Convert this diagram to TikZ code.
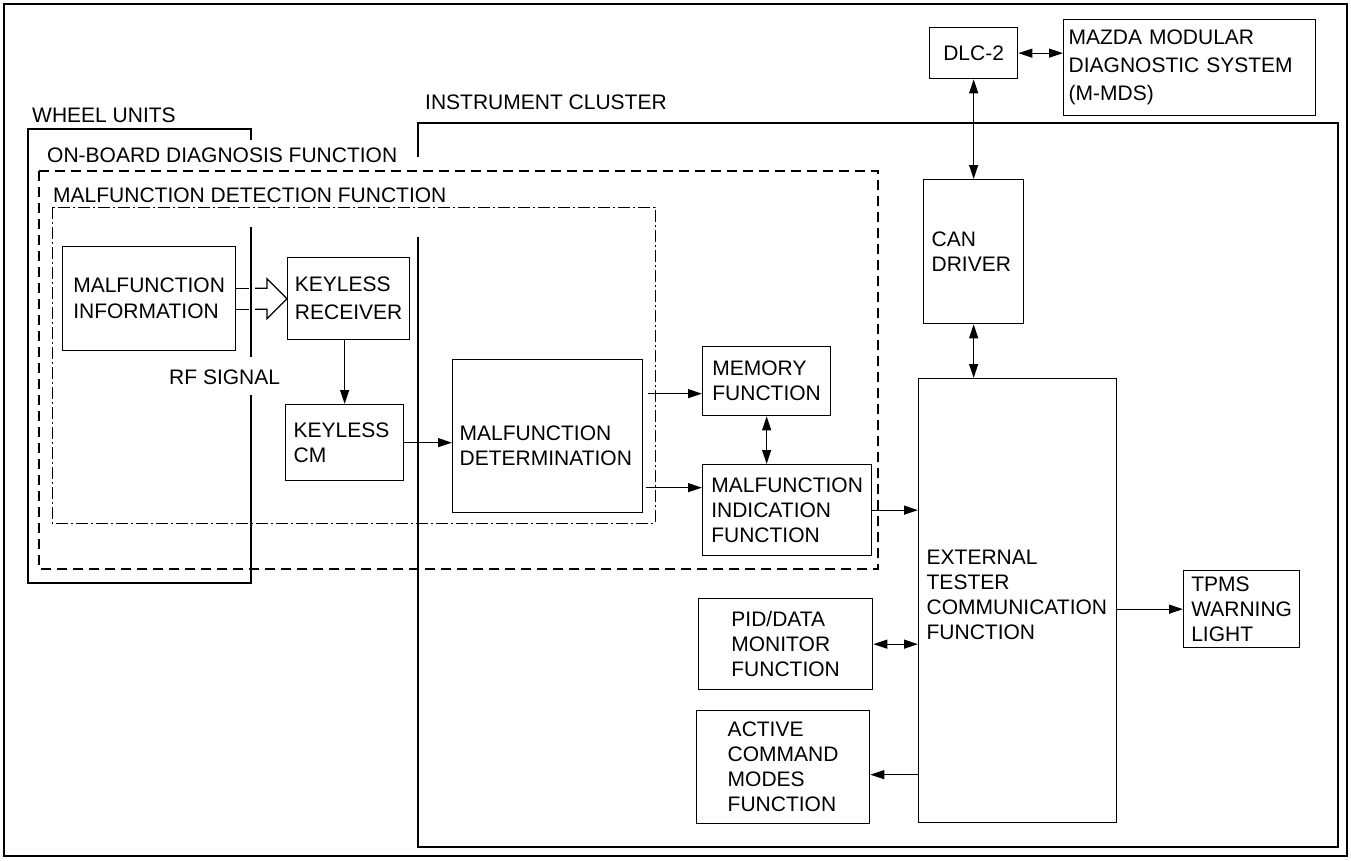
\documentclass[tikz,border=0pt]{standalone}
\usepackage{fontspec}
\setmainfont{Liberation Sans}
\usetikzlibrary{arrows.meta,positioning,calc}

\begin{document}
\begin{tikzpicture}[
    x=1pt, y=1pt,
    b1/.style={rectangle, draw, line width=1.3pt, anchor=north west, align=left, inner ysep=0pt, font=\fontsize{21}{25}\selectfont},
    lbl/.style={anchor=west, inner sep=0pt, font=\fontsize{21}{25}\selectfont},
    arr/.style={-{Triangle[length=14pt,width=9pt]}, line width=1.2pt},
    dbl/.style={{Triangle[length=14pt,width=9pt]}-{Triangle[length=14pt,width=9pt]}, line width=1.2pt},
    frm/.style={line width=2pt},
    obd/.style={line width=1.1pt, dash pattern=on 10pt off 6pt},
    mdf/.style={line width=1pt, dash pattern=on 12pt off 3pt on 2pt off 3pt}
]
    \useasboundingbox (0,0) rectangle (1351,-860);
    \draw [frm] (4,-4) rectangle (1347,-856);
    \draw [frm] (418,-157) -- (418,-123) -- (1338,-123) -- (1338,-847) -- (418,-847) -- (418,-237);
    \draw [line width=1.4pt] (251,-140) -- (251,-129) -- (28,-129) -- (28,-583) -- (251,-583) -- (251,-395) (251,-227) -- (251,-357);
    \draw [obd] (39,-171) rectangle (878,-569);
    \draw [mdf] (52,-207) rectangle (655,-523);

    \node [lbl] (l1) at (32,-115) {WHEEL UNITS};
    \node [lbl] (l2) at (425,-102) {INSTRUMENT CLUSTER};
    \node [lbl] (l3) at (47,-155) {ON-BOARD DIAGNOSIS FUNCTION};
    \node [lbl] (l4) at (53,-195) {MALFUNCTION DETECTION FUNCTION};
    \node [lbl] (l5) at (169,-377) {RF SIGNAL};

    \node [b1, minimum width=173pt, minimum height=104pt, font=\fontsize{21}{26}\selectfont] (n1) at (62,-246) {MALFUNCTION\\INFORMATION};
    \node [b1, minimum width=122pt, minimum height=82pt, font=\fontsize{21}{28}\selectfont] (n2) at (287,-257) {KEYLESS\\RECEIVER};
    \node [b1, minimum width=118pt, minimum height=76pt, inner xsep=8pt, text width=102pt] (n3) at (285,-404) {KEYLESS\\CM};
    \node [b1, minimum width=190pt, minimum height=153pt, inner xsep=7pt, text width=176pt, text height=33pt] (n4) at (452,-359) {MALFUNCTION\\DETERMINATION};
    \node [b1, minimum width=128pt, minimum height=69pt] (n5) at (702,-346) {MEMORY\\FUNCTION};
    \node [b1, minimum width=169pt, minimum height=91pt] (n6) at (702,-464) {MALFUNCTION\\INDICATION\\FUNCTION};
    \node [b1, minimum width=100pt, minimum height=144pt, inner xsep=8pt, text width=84pt] (n7) at (923,-179) {CAN\\DRIVER};
    \node [b1, minimum width=198pt, minimum height=444pt, inner xsep=8pt, text width=182pt, text depth=86pt] (n8) at (918,-378) {EXTERNAL\\TESTER\\COMMUNICATION\\FUNCTION};
    \node [b1, minimum width=116pt, minimum height=77pt] (n9) at (1183,-570) {TPMS\\WARNING\\LIGHT};
    \node [b1, minimum width=174pt, minimum height=91pt] (n10) at (698,-598) {PID/DATA\\MONITOR\\FUNCTION};
    \node [b1, minimum width=173pt, minimum height=113pt] (n11) at (696,-710) {ACTIVE\\COMMAND\\MODES\\FUNCTION};
    \node [b1, minimum width=88pt, minimum height=51pt, align=center] (n12) at (929,-27) {DLC-2};
    \node [b1, minimum width=252pt, minimum height=96pt, inner xsep=5pt, text width=242pt, font=\fontsize{21}{28}\selectfont] (n13) at (1063,-19) {MAZDA MODULAR\\DIAGNOSTIC SYSTEM\\(M-MDS)};

    \coordinate (c1) at ([yshift=-7.5pt]n11.east);
    \coordinate (c2) at ([yshift=42.5pt]n4.east);
    \coordinate (c3) at ([yshift=-51.5pt]n4.east);

    \draw [line width=1.2pt] ([yshift=10.5pt]n1.east) -- ++(13,0) ([yshift=-10.5pt]n1.east) -- ++(13,0);
    \draw [line width=1.2pt] ($(n2.west)+(-32,10.5)$) -- ++(12,0) -- ++(0,9.5) -- (n2.west) -- ++(-20,-20) -- ++(0,9.5) -- ++(-12,0);
    \draw [arr] (n3.north |- n2.south) -- (n3.north);
    \draw [arr] (n3.east) -- (n3.east -| n4.west);
    \draw [arr, shorten <=5pt] (c2) -- (c2 -| n5.west);
    \draw [arr, shorten <=3pt] (c3) -- (c3 -| n6.west);
    \draw [dbl] (n5.south) -- (n5.south |- n6.north);
    \draw [arr] (n6.east) -- (n6.east -| n8.west);
    \draw [dbl] (n10.east) -- (n10.east -| n8.west);
    \draw [arr] (c1 -| n8.west) -- (c1);
    \draw [arr] (n8.east |- n9.west) -- (n9.west);
    \draw [dbl] (n7.south) -- (n7.south |- n8.north);
    \draw [dbl] (n12.south) -- (n7.north);
    \draw [dbl] (n12.east) -- (n12.east -| n13.west);
\end{tikzpicture}
\end{document}
